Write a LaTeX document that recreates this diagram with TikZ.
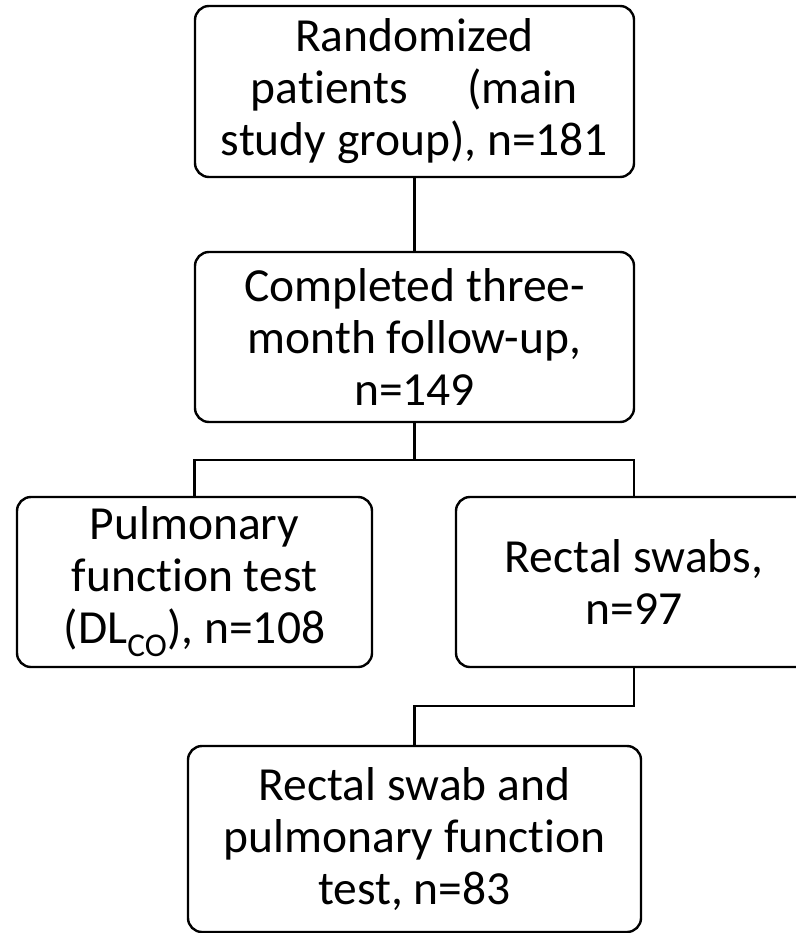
\documentclass[tikz,border=0pt]{standalone}
\usepackage{fontspec}
\setmainfont{Carlito}[Ligatures=NoCommon]

\tikzset{
	stage/.style={draw, line width=2.4pt, rounded corners=14pt, align=center, inner sep=0pt,
		font=\fontsize{47.5}{52}\selectfont},
	link/.style={line width=2.2pt}
}

\begin{document}
\begin{tikzpicture}[x=1pt,y=-1pt]
		\useasboundingbox (0,0) rectangle (795,933);
		% Draw the boxes of the flow chart
		\node[stage, minimum width=439pt, minimum height=171pt] (random) at (414.5,91.5)
			{Randomized\\patients\hspace{1.25em}(main\\study group), n=181};
		\node[stage, minimum width=439pt, minimum height=170pt] (followup) at (414.5,337)
			{Completed three-\\month follow-up,\\n=149};
		\node[stage, minimum width=355pt, minimum height=170pt] (pft) at (194.5,582)
			{Pulmonary\\function test\\(DL\textsubscript{CO}), n=108};
		\node[stage, minimum width=356pt, minimum height=170pt] (swabs) at (634,582)
			{Rectal swabs,\\n=97};
		\node[stage, minimum width=453pt, minimum height=186pt] (both) at (414.5,839)
			{Rectal swab and\\pulmonary function\\test, n=83};
		% Draw the connectors
		\coordinate (split) at (414.5,460);
		\coordinate (merge) at (414.5,706);
		\draw[link] (random.south) -- (followup.north);
		\draw[link] (followup.south) -- (split);
		\draw[link] (pft.north) |- (split) -| (swabs.north);
		\draw[link] (swabs.south) |- (merge) -- (both.north);
	\end{tikzpicture}
\end{document}
